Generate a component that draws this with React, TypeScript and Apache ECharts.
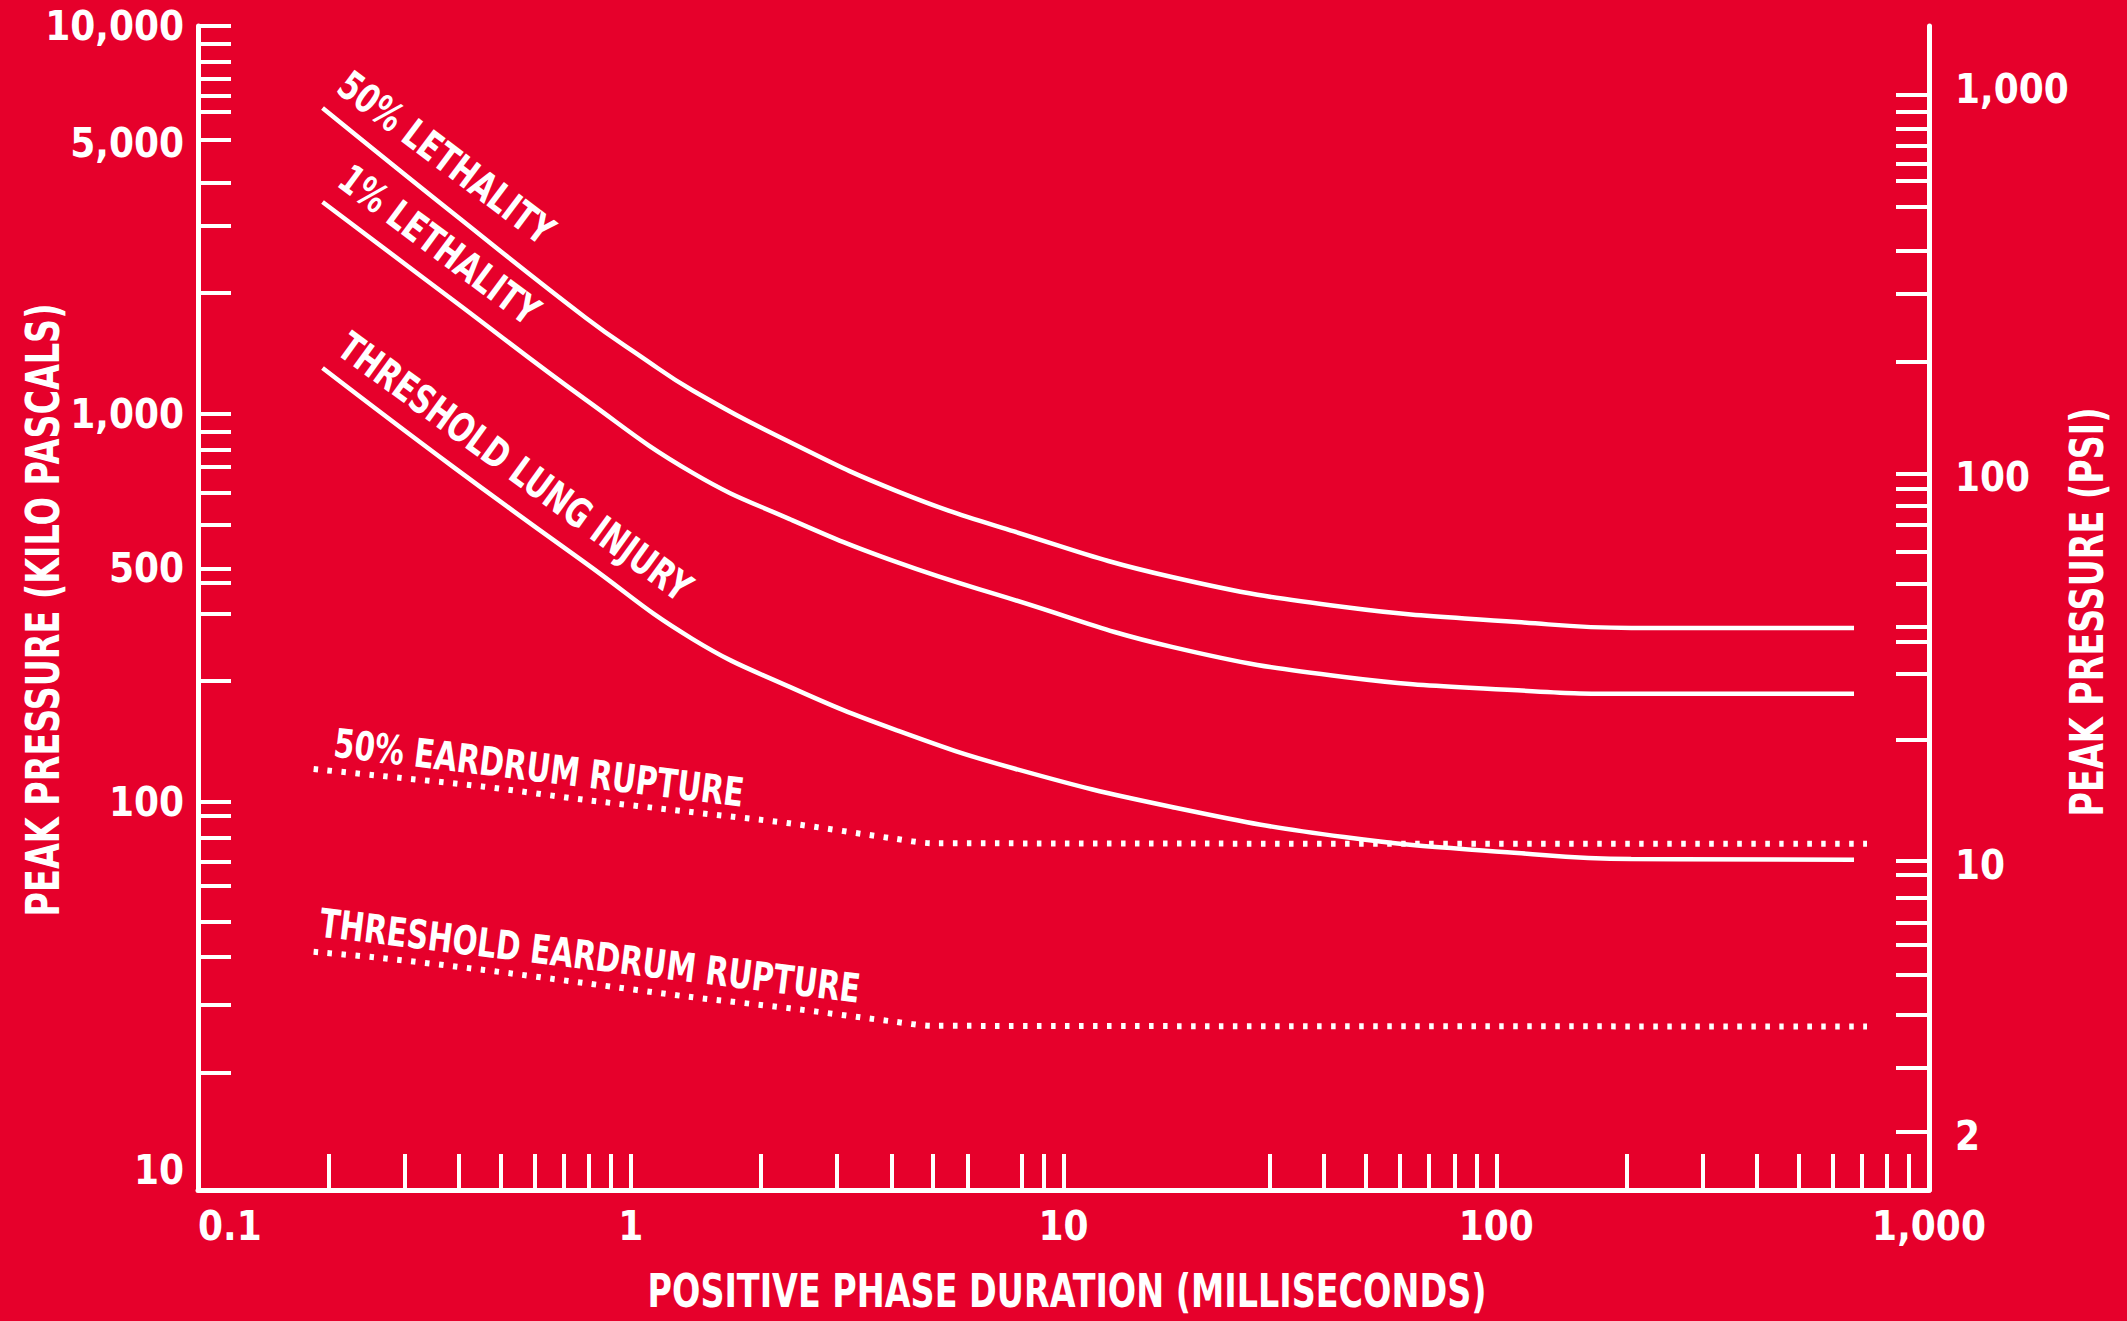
import React, { useEffect, useRef } from 'react';
import * as echarts from 'echarts';

const KPA_PER_PSI = 6.894757;

// X axis: positive phase duration (ms)
const durationLabels = [0.1, 1, 10, 100, 1000];
const durationLabelText = ['0.1', '1', '10', '100', '1,000'];
const durationTicks = [0.2, 0.3, 0.4, 0.5, 0.6, 0.7, 0.8, 0.9, 1, 2, 3, 4, 5, 6, 8, 9, 10, 30, 40, 50, 60, 70, 80, 90, 100, 200, 300, 400, 500, 600, 700, 800, 900];

// Left axis: kilo pascals
const kpaLabels = [10, 100, 500, 1000, 5000, 10000];
const kpaLabelText = ['10', '100', '500', '1,000', '5,000', '10,000'];
const kpaTicks = [20, 30, 40, 49, 61, 70, 81, 92, 100, 205, 305, 367, 400, 517, 625, 730, 808, 900, 1000, 2050, 3050, 3950, 5100, 6000, 6600, 7300, 8100, 9000, 10000];

// Right axis: psi
const psiLabels = [2, 10, 100, 1000];
const psiLabelText = ['2', '10', '100', '1,000'];
const psiTicks = [2.05, 3.0, 4.1, 5.2, 6.2, 7.1, 8.2, 9.4, 10.25, 21, 31, 37.5, 41, 53, 64, 75, 84, 93, 102, 198, 296, 382, 496, 578, 640, 711, 787, 871, 966];

// Solid curves (kPa vs ms)
const lethal50Duration = [0.194, 0.388, 0.788, 1.06, 1.39, 2.33, 4.12, 7.69, 17.8, 44.5, 112, 205, 671];
const lethal50 = [6150, 3297, 1768, 1402, 1150, 847, 633, 498, 380, 318, 291, 281, 281];
const lethal1Duration = [0.194, 0.388, 0.788, 1.39, 2.33, 4.12, 7.69, 17.8, 44.5, 112, 205, 671];
const lethal1 = [3518, 1967, 1087, 705, 536, 415, 332, 251, 210, 194, 190, 190];
const lungDuration = [0.194, 0.388, 0.788, 1.39, 2.33, 4.12, 7.69, 17.8, 44.5, 112, 205, 671];
const lungThreshold = [1314, 732, 412, 263, 198, 153, 122, 97.1, 81.2, 73.9, 71.3, 71.0];

// Dotted curves
const eardrumDuration = [0.185, 0.266, 0.458, 0.788, 1.356, 2.33, 4.02, 4.99, 719];
const eardrum50 = [121.6, 116.7, 109.5, 101.2, 94.4, 88.1, 80.6, 78.3, 78.0];
const eardrumThreshold = [41.1, 39.6, 36.9, 34.1, 31.5, 29.4, 27.2, 26.5, 26.4];

const FONT = '"DejaVu Sans Condensed", "Liberation Sans Narrow", "Liberation Sans", sans-serif';
const RED = '#E6002B';
const WHITE = '#FFFFFF';

const pick = (vals: number[], texts: string[]) => (v: number) => {
  let best = 0;
  for (let i = 1; i < vals.length; i++) {
    if (Math.abs(Math.log10(vals[i]) - Math.log10(v)) < Math.abs(Math.log10(vals[best]) - Math.log10(v))) best = i;
  }
  return texts[best];
};

const zip = (xs: number[], ys: number[]) => xs.map((x, i) => [x, ys[i]]);

export default function App() {
  const ref = useRef<HTMLDivElement>(null);
  useEffect(() => {
    const chart = echarts.init(ref.current!, null, { renderer: 'svg' });
    const labelStyle = { color: WHITE, fontSize: 40, fontFamily: FONT, fontWeight: 'bold' as const };
    const lineAxis = { show: true, lineStyle: { color: WHITE, width: 5 } };
    const kpaFmt = pick(kpaLabels, kpaLabelText);
    const solid = { color: WHITE, width: 4.5 };
    const dotted = { color: WHITE, width: 6, type: [4.5, 9.5] as number[], cap: 'butt' as const };
    const lblFont = `bold 40px ${FONT}`;
    const titleFont = `bold 47px ${FONT}`;
    const deg = (d: number) => (d * Math.PI) / 180;
    const txt = (text: string, x: number, y: number, rot: number, font: string, sx: number) => ({
      type: 'text', x, y, rotation: rot, scaleX: sx, silent: true,
      style: { text, fill: WHITE, font, align: 'center', verticalAlign: 'middle', textAlign: 'center', textVerticalAlign: 'middle' },
    });
    const curve = (name: string, xs: number[], ys: number[], ls: any, sm: number) => ({
      name, type: 'line', data: zip(xs, ys), showSymbol: false, smooth: sm, lineStyle: ls,
    });

    chart.setOption({
      animation: false,
      backgroundColor: RED,
      grid: { left: 198, right: 198, top: 26, bottom: 131, containLabel: false },
      xAxis: {
        type: 'log', logBase: 10, min: 0.1, max: 1000,
        axisLine: lineAxis,
        axisTick: { show: true, inside: true, length: 36, customValues: durationTicks, lineStyle: { color: WHITE, width: 4 } },
        minorTick: { show: false },
        splitLine: { show: false },
        axisLabel: { ...labelStyle, customValues: durationLabels, formatter: pick(durationLabels, durationLabelText), margin: 16, alignMinLabel: 'left' },
      },
      yAxis: [
        {
          type: 'log', logBase: 10, min: 10, max: 10000, position: 'left',
          axisLine: lineAxis,
          axisTick: { show: true, inside: true, length: 33, customValues: kpaTicks, lineStyle: { color: WHITE, width: 4 } },
          minorTick: { show: false },
          splitLine: { show: false },
          axisLabel: {
            ...labelStyle, customValues: kpaLabels, margin: 14, verticalAlignMinLabel: 'bottom',
            formatter: (v: number) => { const t = kpaFmt(v); return t === '500' ? '{low|' + t + '}' : t; },
            rich: { low: { ...labelStyle, padding: [74, 0, 0, 0] } },
          },
        },
        {
          type: 'log', logBase: 10, min: 10 / KPA_PER_PSI, max: 10000 / KPA_PER_PSI, position: 'right',
          axisLine: lineAxis,
          axisTick: { show: true, inside: true, length: 33, customValues: psiTicks, lineStyle: { color: WHITE, width: 4 } },
          minorTick: { show: false },
          splitLine: { show: false },
          axisLabel: { ...labelStyle, customValues: psiLabels, formatter: pick(psiLabels, psiLabelText), margin: 26 },
        },
      ],
      series: [
        curve('50% Lethality', lethal50Duration, lethal50, solid, 0.45),
        curve('1% Lethality', lethal1Duration, lethal1, solid, 0.45),
        curve('Threshold Lung Injury', lungDuration, lungThreshold, solid, 0.45),
        curve('50% Eardrum Rupture', eardrumDuration, eardrum50, dotted, 0.3),
        curve('Threshold Eardrum Rupture', eardrumDuration, eardrumThreshold, dotted, 0.3),
      ],
      graphic: [
        txt('PEAK PRESSURE (KILO PASCALS)', 43, 610, Math.PI / 2, titleFont, 0.79),
        txt('PEAK PRESSURE (PSI)', 2087, 612, Math.PI / 2, titleFont, 0.79),
        txt('POSITIVE PHASE DURATION (MILLISECONDS)', 1067, 1291, 0, titleFont, 0.79),
        txt('50% LETHALITY', 446, 158, deg(-37), lblFont, 0.82),
        txt('1% LETHALITY', 439, 245, deg(-36.5), lblFont, 0.82),
        txt('THRESHOLD LUNG INJURY', 515, 467, deg(-36), lblFont, 0.82),
        txt('50% EARDRUM RUPTURE', 539, 768, deg(-7), lblFont, 0.82),
        txt('THRESHOLD EARDRUM RUPTURE', 590, 956, deg(-7), lblFont, 0.82),
      ],
    });
    return () => chart.dispose();
  }, []);
  return <div ref={ref} style={{ position: 'fixed', left: 0, top: 0, width: 2127, height: 1321 }} />;
}
